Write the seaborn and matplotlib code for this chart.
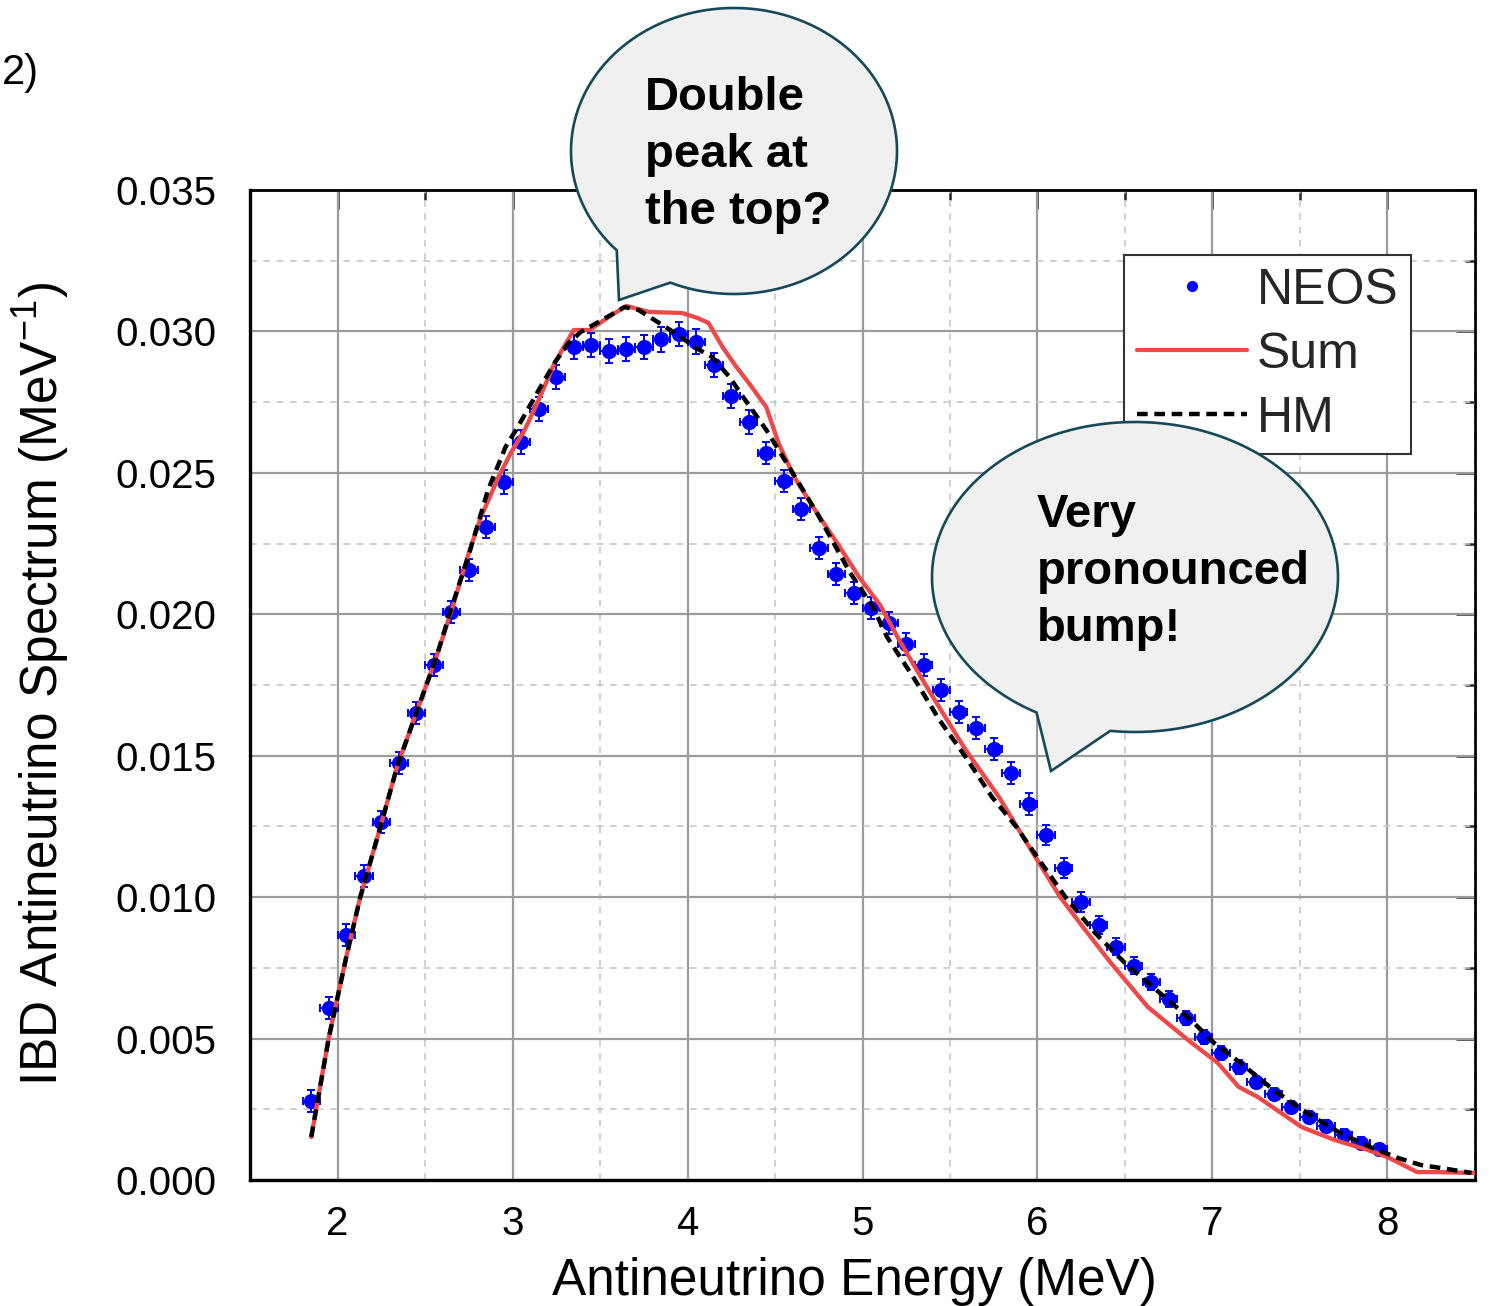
import numpy as np
import pandas as pd
import matplotlib
matplotlib.use("Agg")
import matplotlib.pyplot as plt
import seaborn as sns
from matplotlib.lines import Line2D
from matplotlib.patches import Polygon
from matplotlib.ticker import FixedLocator, FormatStrFormatter

# ---------------- data ----------------
neos_energy = [1.85, 1.95, 2.05, 2.15, 2.25, 2.35, 2.45, 2.55, 2.65, 2.75,
               2.85, 2.95, 3.05, 3.15, 3.25, 3.35, 3.45, 3.55, 3.65, 3.75,
               3.85, 3.95, 4.05, 4.15, 4.25, 4.35, 4.45, 4.55, 4.65, 4.75,
               4.85, 4.95, 5.05, 5.15, 5.25, 5.35, 5.45, 5.55, 5.65, 5.75,
               5.85, 5.95, 6.05, 6.15, 6.25, 6.35, 6.45, 6.55, 6.65, 6.75,
               6.85, 6.95, 7.05, 7.15, 7.25, 7.35, 7.45, 7.55, 7.65, 7.75,
               7.85, 7.95]
neos_flux = [0.00279, 0.00608, 0.00866, 0.01075, 0.01266, 0.01474, 0.01651, 0.01821, 0.02008, 0.02157,
             0.02309, 0.02468, 0.02609, 0.02726, 0.02839, 0.02945, 0.02952, 0.02931, 0.02938, 0.02945,
             0.02973, 0.02991, 0.02963, 0.02881, 0.02772, 0.02680, 0.02570, 0.02471, 0.02372, 0.02234,
             0.02142, 0.02075, 0.02022, 0.01970, 0.01895, 0.01821, 0.01732, 0.01655, 0.01598, 0.01524,
             0.01439, 0.01329, 0.01219, 0.01103, 0.00983, 0.00901, 0.00824, 0.00757, 0.00700, 0.00640,
             0.00573, 0.00506, 0.00449, 0.00399, 0.00346, 0.00304, 0.00258, 0.00223, 0.00191, 0.00159,
             0.00131, 0.00109]
neos_err = [0.00040, 0.00040, 0.00040, 0.00040, 0.00040, 0.00040, 0.00040, 0.00040, 0.00040, 0.00040,
            0.00040, 0.00042, 0.00042, 0.00042, 0.00044, 0.00044, 0.00044, 0.00044, 0.00044, 0.00044,
            0.00044, 0.00044, 0.00044, 0.00042, 0.00042, 0.00042, 0.00040, 0.00040, 0.00040, 0.00040,
            0.00040, 0.00040, 0.00040, 0.00038, 0.00038, 0.00038, 0.00038, 0.00038, 0.00038, 0.00038,
            0.00038, 0.00038, 0.00036, 0.00036, 0.00034, 0.00032, 0.00030, 0.00030, 0.00028, 0.00028,
            0.00026, 0.00026, 0.00024, 0.00024, 0.00022, 0.00022, 0.00022, 0.00020, 0.00020, 0.00020,
            0.00020, 0.00020]
bin_half_width = 0.05

sum_energy = [1.85, 1.95, 2.05, 2.13, 2.24, 2.34, 2.45, 2.56, 2.66, 2.75,
              2.82, 2.92, 2.99, 3.07, 3.15, 3.24, 3.35, 3.44, 3.55, 3.65,
              3.78, 3.97, 4.06, 4.12, 4.20, 4.28, 4.35, 4.45, 4.52, 4.61,
              4.74, 4.87, 4.98, 5.10, 5.21, 5.31, 5.40, 5.59, 5.78, 5.97,
              6.13, 6.26, 6.42, 6.63, 6.86, 7.03, 7.15, 7.26, 7.51, 7.70,
              7.89, 8.00, 8.17, 8.27, 8.50]
sum_flux = [0.00152, 0.00502, 0.00788, 0.01000, 0.01237, 0.01460, 0.01651, 0.01839, 0.02030, 0.02217,
            0.02344, 0.02485, 0.02570, 0.02652, 0.02758, 0.02888, 0.03005, 0.03005, 0.03051, 0.03090,
            0.03069, 0.03065, 0.03047, 0.03030, 0.02945, 0.02874, 0.02818, 0.02733, 0.02606, 0.02485,
            0.02358, 0.02238, 0.02132, 0.02033, 0.01909, 0.01803, 0.01710, 0.01520, 0.01354, 0.01160,
            0.01000, 0.00894, 0.00767, 0.00612, 0.00495, 0.00414, 0.00329, 0.00293, 0.00187, 0.00141,
            0.00106, 0.00081, 0.00028, 0.00028, 0.00025]

hm_energy = [1.85, 1.95, 2.05, 2.13, 2.24, 2.34, 2.45, 2.56, 2.66, 2.75,
             2.86, 2.96, 3.03, 3.15, 3.24, 3.32, 3.39, 3.51, 3.64, 3.72,
             3.83, 3.93, 4.05, 4.14, 4.24, 4.31, 4.45, 4.58, 4.74, 4.93,
             5.06, 5.14, 5.29, 5.44, 5.59, 5.74, 5.88, 6.01, 6.16, 6.33,
             6.50, 6.66, 6.86, 7.01, 7.16, 7.35, 7.54, 7.73, 7.90, 8.06,
             8.19, 8.31, 8.48]
hm_flux = [0.00152, 0.00502, 0.00788, 0.01000, 0.01237, 0.01460, 0.01651, 0.01839, 0.02040, 0.02210,
           0.02439, 0.02591, 0.02662, 0.02793, 0.02888, 0.02959, 0.02998, 0.03040, 0.03086, 0.03076,
           0.03033, 0.02994, 0.02941, 0.02910, 0.02839, 0.02775, 0.02652, 0.02521, 0.02358, 0.02146,
           0.02026, 0.01920, 0.01778, 0.01626, 0.01495, 0.01354, 0.01248, 0.01131, 0.01000, 0.00873,
           0.00767, 0.00682, 0.00576, 0.00484, 0.00414, 0.00318, 0.00237, 0.00166, 0.00117, 0.00078,
           0.00053, 0.00042, 0.00025]

x_major = [2, 3, 4, 5, 6, 7, 8]
x_minor = [1.5, 2.5, 3.5, 4.5, 5.5, 6.5, 7.5, 8.5]
y_major = [0.000, 0.005, 0.010, 0.015, 0.020, 0.025, 0.030, 0.035]
y_minor = [0.0025, 0.0075, 0.0125, 0.0175, 0.0225, 0.0275, 0.0325]

legend_labels = ["NEOS", "Sum", "HM"]
xlabel_text = "Antineutrino Energy (MeV)"
ylabel_text = "IBD Antineutrino Spectrum (MeV$^{\\mathregular{-1}}$)"
bubble1_lines = ["Double", "peak at", "the top?"]
bubble2_lines = ["Very", "pronounced", "bump!"]
corner_text = "2)"

# ---------------- style ----------------
sns.set_theme(style="white")
plt.rcParams["font.family"] = ["Liberation Sans", "DejaVu Sans"]
plt.rcParams["mathtext.fontset"] = "custom"
plt.rcParams["mathtext.rm"] = "Liberation Sans"
plt.rcParams["mathtext.it"] = "Liberation Sans"
plt.rcParams["axes.unicode_minus"] = False

BLUE = "#0000ff"
RED = "#f04848"
EDGE = "#15495a"
FILL = "#f0f0f0"

W, H = 1493, 1306
fig = plt.figure(figsize=(W / 100, H / 100), dpi=100)
ax = fig.add_axes([250 / W, 1 - 1180 / H, 1225 / W, 990 / H])

neos_df = pd.DataFrame({"E": neos_energy, "flux": neos_flux, "err": neos_err})
sum_df = pd.DataFrame({"E": sum_energy, "flux": sum_flux})
hm_df = pd.DataFrame({"E": hm_energy, "flux": hm_flux})

# error bars
ax.errorbar(neos_df["E"], neos_df["flux"], yerr=neos_df["err"], xerr=bin_half_width,
            fmt="none", ecolor=BLUE, elinewidth=1.4, capsize=3.2, capthick=1.4, zorder=3)
sns.scatterplot(data=neos_df, x="E", y="flux", ax=ax, color=BLUE, s=120,
                linewidth=0, zorder=4, legend=False)
sns.lineplot(data=sum_df, x="E", y="flux", ax=ax, color=RED, linewidth=3.1,
             zorder=5, legend=False, sort=False)
sns.lineplot(data=hm_df, x="E", y="flux", ax=ax, color="black", linewidth=3.2,
             zorder=6, legend=False, sort=False, dashes=False)
ax.lines[-1].set_dashes([2.4, 1.5])

ax.set_xlim(1.5, 8.5)
ax.set_ylim(0, 0.035)
ax.xaxis.set_major_locator(FixedLocator(x_major))
ax.xaxis.set_minor_locator(FixedLocator(x_minor))
ax.yaxis.set_major_locator(FixedLocator(y_major))
ax.yaxis.set_minor_locator(FixedLocator(y_minor))
ax.yaxis.set_major_formatter(FormatStrFormatter("%.3f"))
ax.xaxis.set_major_formatter(FormatStrFormatter("%d"))

ax.grid(which="major", color="#9c9c9c", linewidth=1.6, linestyle="-", zorder=0)
ax.grid(which="minor", color="#c8c8c8", linewidth=1.2, linestyle=(0, (4, 4)), zorder=0)
ax.set_axisbelow(True)

for side in ["left", "bottom", "top", "right"]:
    ax.spines[side].set_visible(True)
    ax.spines[side].set_color("black")
ax.spines["left"].set_linewidth(2.4)
ax.spines["bottom"].set_linewidth(2.4)
ax.spines["top"].set_linewidth(1.8)
ax.spines["right"].set_linewidth(1.8)

ax.tick_params(which="major", direction="out", length=13, width=1.8, color="black",
               labelsize=29, labelcolor="black", pad=5)
ax.tick_params(axis="y", which="major", pad=11)
ax.tick_params(which="minor", direction="out", length=7, width=1.8, color="black")

# inward ticks on top and right
secx = ax.secondary_xaxis("top")
secx.xaxis.set_major_locator(FixedLocator(x_major))
secx.xaxis.set_minor_locator(FixedLocator(x_minor))
secx.tick_params(which="major", direction="in", length=14, width=1.8, labeltop=False)
secx.tick_params(which="minor", direction="in", length=7, width=1.8)
secx.spines["top"].set_linewidth(1.8)
secy = ax.secondary_yaxis("right")
secy.yaxis.set_major_locator(FixedLocator(y_major))
secy.yaxis.set_minor_locator(FixedLocator(y_minor))
secy.tick_params(which="major", direction="in", length=14, width=1.8, labelright=False)
secy.tick_params(which="minor", direction="in", length=7, width=1.8)
secy.spines["right"].set_linewidth(1.8)

ax.set_xlabel(xlabel_text, fontsize=37, color="black")
ax.xaxis.set_label_coords((854 - 250) / 1225, -(1257 - 1180) / 990)
ax.set_ylabel(ylabel_text, fontsize=37, color="black")
ax.yaxis.set_label_coords(-(250 - 72) / 1225, (1180 - 684) / 990)

# legend
handles = [Line2D([], [], marker="o", color=BLUE, linestyle="none", markersize=7),
           Line2D([], [], color=RED, linewidth=3.0),
           Line2D([], [], color="black", linewidth=3.2, dashes=[2.4, 1.5])]
leg = ax.legend(handles, legend_labels, loc="upper left",
                bbox_to_anchor=(1124 / W, 1 - 255 / H), bbox_transform=fig.transFigure,
                fontsize=36, handlelength=2.2, handletextpad=0.2, borderpad=0.25,
                labelspacing=0.36, borderaxespad=0, fancybox=False, framealpha=1,
                edgecolor="#333333", frameon=True)
leg.get_frame().set_linewidth(1.5)
leg.set_zorder(20)

# overlay for callouts (pixel coordinates)
ov = fig.add_axes([0, 0, 1, 1], zorder=50)
ov.set_xlim(0, W)
ov.set_ylim(H, 0)
ov.axis("off")
ov.patch.set_alpha(0)


def bubble(cx, cy, a, b, ang_right, ang_left, tip):
    angs = np.deg2rad(np.linspace(ang_right, ang_left - 360, 400))
    pts = np.column_stack([cx + a * np.cos(angs), cy + b * np.sin(angs)])
    pts = np.vstack([pts, tip])
    ov.add_patch(Polygon(pts, closed=True, facecolor=FILL, edgecolor=EDGE,
                         linewidth=1.9, joinstyle="miter"))


bubble(734, 151, 163, 143, 113, 136, (619, 300))
bubble(1135, 577, 203, 155, 97, 119, (1051, 771))

for i, t in enumerate(bubble1_lines):
    ov.text(645, 110 + 57 * i, t, fontsize=34, fontweight="bold", ha="left",
            va="baseline", color="black")
for i, t in enumerate(bubble2_lines):
    ov.text(1037, 527 + 57 * i, t, fontsize=34, fontweight="bold", ha="left",
            va="baseline", color="black")

ov.text(2, 84, corner_text, fontsize=30, ha="left", va="baseline", color="black")

fig.savefig("out.png", dpi=100)
